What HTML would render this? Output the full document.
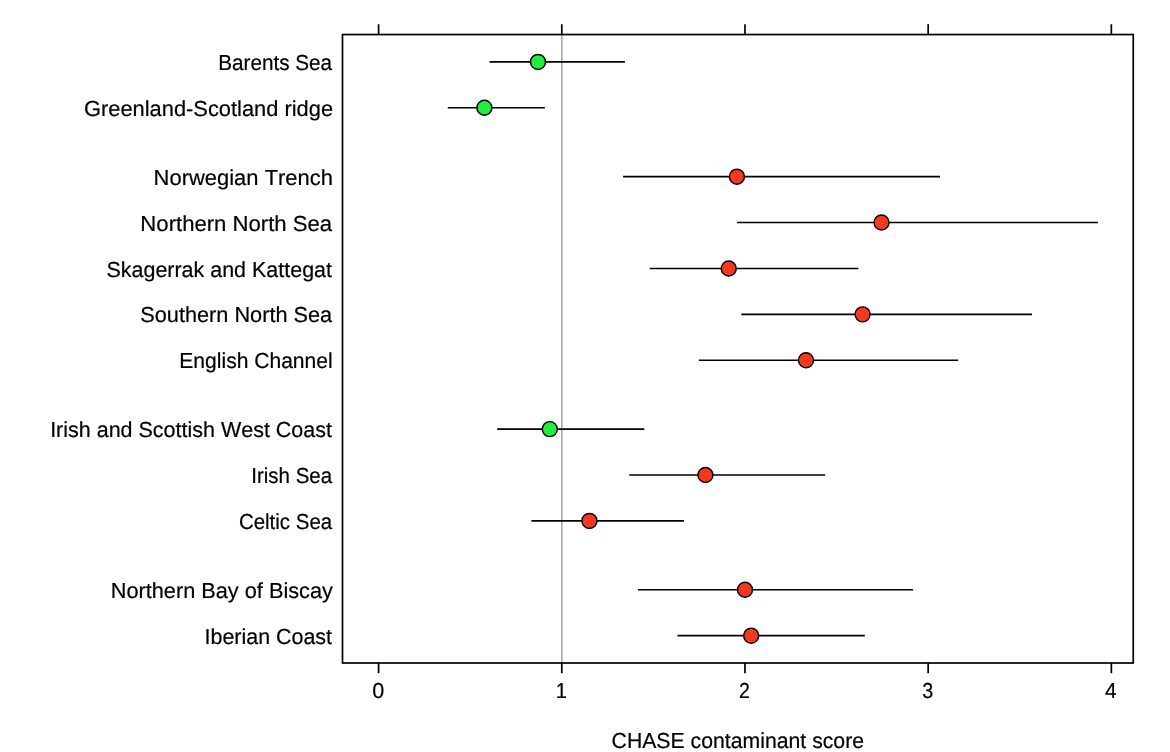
<!DOCTYPE html>
<html lang="en">
<head>
<meta charset="utf-8">
<title>CHASE contaminant score</title>
<style>
html,body{margin:0;padding:0;background:#fff;}
body{width:1170px;height:752px;overflow:hidden;}
svg{display:block;}
text{font-family:"Liberation Sans",sans-serif;fill:#000;font-kerning:none;text-rendering:geometricPrecision;stroke:#000;stroke-width:0.2px;stroke-linejoin:round;}
</style>
</head>
<body>
<svg width="1170" height="752" viewBox="0 0 1170 752">
<rect x="0" y="0" width="1170" height="752" fill="#ffffff"/>
<line x1="561.79" y1="34.55" x2="561.79" y2="663.0" stroke="#a9a9a9" stroke-width="1.6"/>
<g stroke="#000" stroke-width="1.6" fill="none">
<line x1="489.5" y1="61.9" x2="624.9" y2="61.9"/>
<line x1="447.8" y1="107.8" x2="544.9" y2="107.8"/>
<line x1="623.1" y1="176.65" x2="940.0" y2="176.65"/>
<line x1="736.9" y1="222.55" x2="1097.9" y2="222.55"/>
<line x1="649.7" y1="268.45" x2="858.4" y2="268.45"/>
<line x1="741.3" y1="314.35" x2="1032.0" y2="314.35"/>
<line x1="698.9" y1="360.25" x2="958.1" y2="360.25"/>
<line x1="497.2" y1="429.1" x2="644.3" y2="429.1"/>
<line x1="629.2" y1="475.0" x2="825.2" y2="475.0"/>
<line x1="531.4" y1="520.9" x2="684.0" y2="520.9"/>
<line x1="638.0" y1="589.75" x2="913.1" y2="589.75"/>
<line x1="677.5" y1="635.65" x2="864.8" y2="635.65"/>
</g>
<g stroke="#000" stroke-width="1.45">
<circle cx="538.0" cy="61.9" r="7.5" fill="#1CEF3C"/>
<circle cx="484.4" cy="107.8" r="7.5" fill="#1CEF3C"/>
<circle cx="736.9" cy="176.65" r="7.5" fill="#F9381A"/>
<circle cx="881.5" cy="222.55" r="7.5" fill="#F9381A"/>
<circle cx="728.7" cy="268.45" r="7.5" fill="#F9381A"/>
<circle cx="862.6" cy="314.35" r="7.5" fill="#F9381A"/>
<circle cx="806.0" cy="360.25" r="7.5" fill="#F9381A"/>
<circle cx="549.8" cy="429.1" r="7.5" fill="#1CEF3C"/>
<circle cx="705.45" cy="475.0" r="7.5" fill="#F9381A"/>
<circle cx="589.45" cy="520.9" r="7.5" fill="#F9381A"/>
<circle cx="745.0" cy="589.75" r="7.5" fill="#F9381A"/>
<circle cx="751.2" cy="635.65" r="7.5" fill="#F9381A"/>
</g>
<rect x="342.5" y="34.55" width="790.75" height="628.45" fill="none" stroke="#000" stroke-width="1.7"/>
<g stroke="#000" stroke-width="1.7">
<line x1="378.6" y1="24.20" x2="378.6" y2="34.55"/>
<line x1="378.6" y1="663.0" x2="378.6" y2="673.20"/>
<line x1="561.79" y1="24.20" x2="561.79" y2="34.55"/>
<line x1="561.79" y1="663.0" x2="561.79" y2="673.20"/>
<line x1="744.98" y1="24.20" x2="744.98" y2="34.55"/>
<line x1="744.98" y1="663.0" x2="744.98" y2="673.20"/>
<line x1="928.16" y1="24.20" x2="928.16" y2="34.55"/>
<line x1="928.16" y1="663.0" x2="928.16" y2="673.20"/>
<line x1="1111.35" y1="24.20" x2="1111.35" y2="34.55"/>
<line x1="1111.35" y1="663.0" x2="1111.35" y2="673.20"/>
</g>
<g font-size="21.7px">
<text x="218.20" y="69.60" textLength="113.94" lengthAdjust="spacingAndGlyphs">Barents Sea</text>
<text x="83.99" y="115.60" textLength="249.11" lengthAdjust="spacingAndGlyphs">Greenland-Scotland ridge</text>
<text x="153.61" y="184.60" textLength="179.35" lengthAdjust="spacingAndGlyphs">Norwegian Trench</text>
<text x="140.36" y="230.60" textLength="191.83" lengthAdjust="spacingAndGlyphs">Northern North Sea</text>
<text x="106.47" y="276.60" textLength="225.51" lengthAdjust="spacingAndGlyphs">Skagerrak and Kattegat</text>
<text x="140.32" y="321.60" textLength="191.86" lengthAdjust="spacingAndGlyphs">Southern North Sea</text>
<text x="179.34" y="367.60" textLength="153.35" lengthAdjust="spacingAndGlyphs">English Channel</text>
<text x="50.13" y="436.60" textLength="281.85" lengthAdjust="spacingAndGlyphs">Irish and Scottish West Coast</text>
<text x="251.26" y="482.60" textLength="80.88" lengthAdjust="spacingAndGlyphs">Irish Sea</text>
<text x="238.91" y="528.60" textLength="93.22" lengthAdjust="spacingAndGlyphs">Celtic Sea</text>
<text x="110.74" y="597.60" textLength="222.14" lengthAdjust="spacingAndGlyphs">Northern Bay of Biscay</text>
<text x="204.60" y="643.60" textLength="127.38" lengthAdjust="spacingAndGlyphs">Iberian Coast</text>
</g>
<g font-size="21.7px">
<text x="372.31" y="697.8" textLength="12.01" lengthAdjust="spacingAndGlyphs">0</text>
<text x="555.69" y="697.8" textLength="11.24" lengthAdjust="spacingAndGlyphs">1</text>
<text x="739.04" y="697.8" textLength="10.88" lengthAdjust="spacingAndGlyphs">2</text>
<text x="922.14" y="697.8" textLength="11.00" lengthAdjust="spacingAndGlyphs">3</text>
<text x="1105.02" y="697.8" textLength="11.59" lengthAdjust="spacingAndGlyphs">4</text>
</g>
<g font-size="21.7px">
<text x="611.55" y="747.70" textLength="252.49" lengthAdjust="spacingAndGlyphs">CHASE contaminant score</text>
</g>
</svg>
</body>
</html>
